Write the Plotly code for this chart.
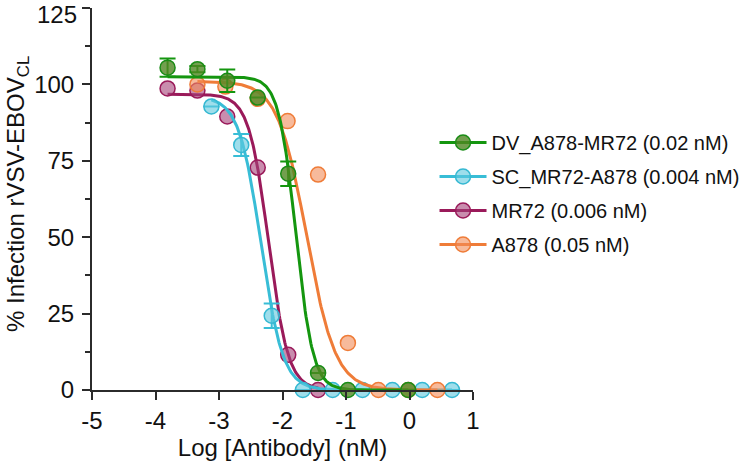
import numpy as np
import plotly.graph_objects as go

# ---------------- data ----------------
series_names = ["DV_A878-MR72 (0.02 nM)", "SC_MR72-A878 (0.004 nM)",
                "MR72 (0.006 nM)", "A878 (0.05 nM)"]

dv_x = [-3.81, -3.34, -2.87, -2.39, -1.91, -1.44, -0.97, -0.02]
dv_y = [105.5, 105.0, 101.2, 95.7, 70.8, 5.6, 0.0, 0.0]
dv_err = [3.0, 1.0, 3.7, 0.0, 4.0, 0.0, 0.0, 0.0]

sc_x = [-3.12, -2.65, -2.17, -1.68, -1.21, -0.74, -0.27, 0.20, 0.67]
sc_y = [92.8, 80.2, 24.3, 0.0, 0.0, 0.0, 0.0, 0.0, 0.0]
sc_err = [0.0, 3.6, 4.0, 0.0, 0.0, 0.0, 0.0, 0.0, 0.0]

mr_x = [-3.81, -3.34, -2.87, -2.39, -1.91, -1.44]
mr_y = [98.7, 98.0, 89.5, 72.8, 11.5, 0.0]

a8_x = [-3.34, -2.90, -2.39, -1.92, -1.44, -0.97, -0.49, -0.02, 0.44]
a8_y = [100.0, 99.3, 95.3, 88.0, 70.5, 15.4, 0.0, 0.0, 0.0]

# fitted 4-parameter logistic curve parameters [top, logIC50, hill]
dv_fit = [102.5, -1.79, 3.2]
sc_fit = [96.0, -2.34, 2.5]
mr_fit = [96.8, -2.22, 2.8]
a8_fit = [101.0, -1.62, 1.9]

x_ticks = [-5, -4, -3, -2, -1, 0, 1]
x_tick_labels = ["-5", "-4", "-3", "-2", "-1", "0", "1"]
y_ticks = [0, 25, 50, 75, 100, 125]
y_tick_labels = ["0", "25", "50", "75", "100", "125"]

# ---------------- styling ----------------
FONT = "Liberation Sans, Arial, Helvetica, sans-serif"
styles = {
    "dv": dict(line="#14960f", fill="rgba(80,135,35,0.80)", edge="#1a8c16"),
    "sc": dict(line="#38bdd6", fill="rgba(95,200,222,0.60)", edge="#35b8d2"),
    "mr": dict(line="#9a1a5a", fill="rgba(165,65,120,0.60)", edge="#9a1a5a"),
    "a8": dict(line="#ef7c38", fill="rgba(242,140,88,0.60)", edge="#ef7c38"),
}


def fit_curve(xs, params):
    top, logic50, hill = params
    xx = np.linspace(min(xs), max(xs), 300)
    yy = top / (1.0 + 10 ** ((xx - logic50) * hill))
    return xx, yy


fig = go.Figure()

entries = [
    ("mr", series_names[2], mr_x, mr_y, None, mr_fit),
    ("sc", series_names[1], sc_x, sc_y, sc_err, sc_fit),
    ("a8", series_names[3], a8_x, a8_y, None, a8_fit),
    ("dv", series_names[0], dv_x, dv_y, dv_err, dv_fit),
]

for key, name, xs, ys, err, fit in entries:
    st = styles[key]
    cx, cy = fit_curve(xs, fit)
    fig.add_trace(go.Scatter(x=cx, y=cy, mode="lines",
                             line=dict(color=st["line"], width=3),
                             showlegend=False, hoverinfo="skip",
                             cliponaxis=False))
    ekw = {}
    if err is not None:
        ekw["error_y"] = dict(type="data", array=err, visible=True,
                              color=st["line"], thickness=2, width=8)
    fig.add_trace(go.Scatter(x=xs, y=ys, mode="markers",
                             marker=dict(size=15, color=st["fill"],
                                         line=dict(color=st["edge"], width=1.5)),
                             showlegend=False, cliponaxis=False, **ekw))

# legend-only entries in the reference order
for i, key in enumerate(["dv", "sc", "mr", "a8"]):
    st = styles[key]
    fig.add_trace(go.Scatter(x=[None], y=[None], mode="lines+markers",
                             name=series_names[i], legendgroup=key,
                             line=dict(color=st["line"], width=3),
                             marker=dict(size=15, color=st["fill"],
                                         line=dict(color=st["edge"], width=1.5))))

# the top tick label sits slightly lower than its tick (as in the reference)
axis_ticktext = y_tick_labels[:-1] + [""]

axis_col = "#2b2b2b"
fig.update_layout(
    width=746, height=465, autosize=False,
    margin=dict(l=92, r=273, t=8, b=75, autoexpand=False),
    paper_bgcolor="white", plot_bgcolor="white",
    font=dict(family=FONT, color="#111111", size=24),
    showlegend=True,
    legend=dict(x=0.899, y=0.699, xanchor="left", yanchor="top",
                font=dict(family=FONT, size=20, color="#111111"),
                tracegroupgap=5, itemwidth=47,
                bgcolor="rgba(0,0,0,0)", traceorder="grouped"),
    xaxis=dict(range=[-5, 1], tickmode="array", tickvals=x_ticks,
               ticktext=x_tick_labels, ticks="outside", ticklen=8,
               tickwidth=2, tickcolor=axis_col, showline=True,
               linecolor=axis_col, linewidth=2, showgrid=False,
               zeroline=False, tickfont=dict(size=24), automargin=False,
               ticklabeloverflow="allow",
               title=dict(text="Log [Antibody] (nM)",
                          font=dict(size=24), standoff=4)),
    yaxis=dict(range=[0, 125.02], tickmode="array", tickvals=y_ticks,
               ticktext=axis_ticktext, ticks="outside", ticklen=8,
               tickwidth=2, tickcolor=axis_col, showline=True,
               linecolor=axis_col, linewidth=2, showgrid=False,
               zeroline=False, tickfont=dict(size=24), automargin=False,
               ticklabeloverflow="allow", ticklabelstandoff=3,
               minor=dict(dtick=12.5, tick0=0, ticks="outside", ticklen=5,
                          tickwidth=2, tickcolor=axis_col, showgrid=False)),
    annotations=[
        dict(text="% Infection rVSV-EBOV<sub>CL</sub>",
             xref="paper", yref="paper", x=-0.197, y=0.513,
             xanchor="center", yanchor="middle", textangle=-90,
             showarrow=False, font=dict(family=FONT, size=24, color="#111111")),
        dict(text=y_tick_labels[-1], xref="paper", yref="y",
             x=0, y=y_ticks[-1], xanchor="right", yanchor="middle",
             xshift=-13, yshift=-6, showarrow=False,
             font=dict(family=FONT, size=24, color="#111111")),
    ],
)

fig.write_html("out.html",
               config={"displayModeBar": False},
               post_script="document.body.style.margin='0px';"
                           "document.body.style.padding='0px';")
